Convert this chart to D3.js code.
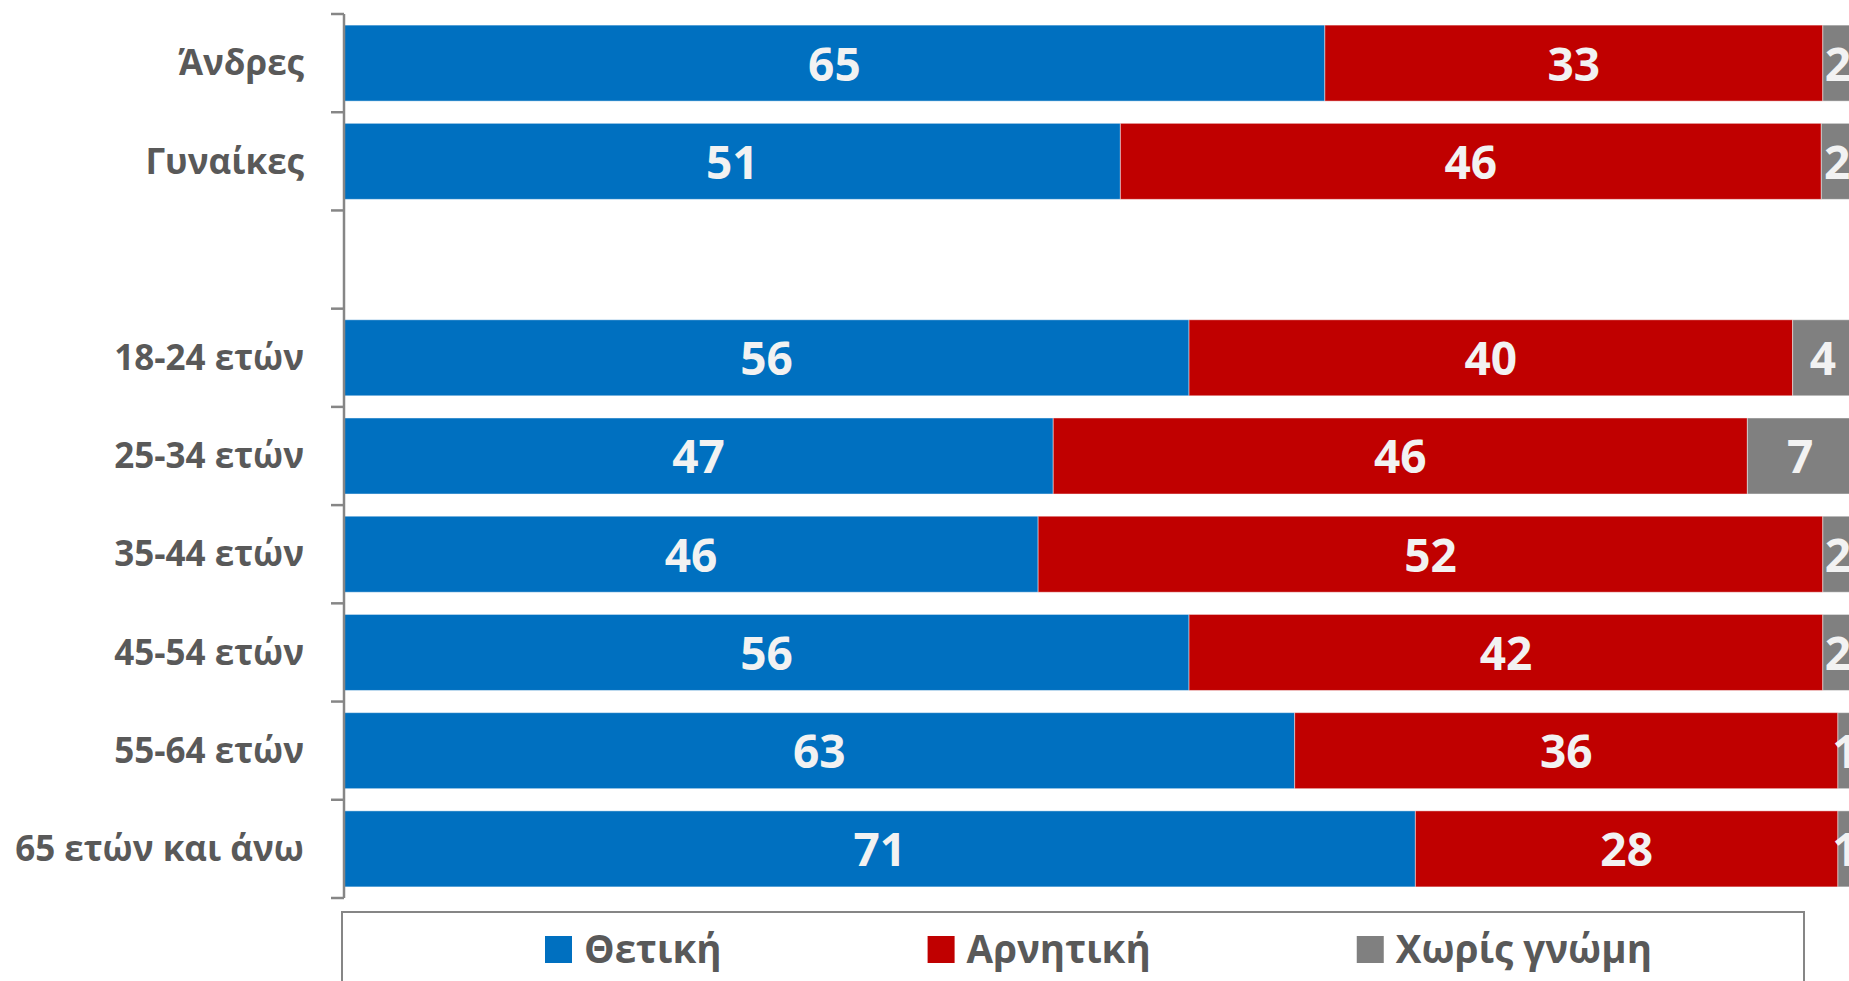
<!DOCTYPE html>
<html>
<head>
<meta charset="utf-8">
<script src="https://cdn.jsdelivr.net/npm/d3@7"></script>
<style>
  html, body { margin: 0; padding: 0; background: #fff; overflow: hidden; }
  svg { display: block; font-family: "Open Sans", sans-serif; }
</style>
</head>
<body>
<svg id="chart" width="1849" height="981"></svg>
<script>
// categories (empty one is the spacer row between gender and age groups)
const categories = ['Άνδρες', 'Γυναίκες', '', '18-24 ετών', '25-34 ετών', '35-44 ετών', '45-54 ετών', '55-64 ετών', '65 ετών και άνω'];
const seriesNames = ['Θετική', 'Αρνητική', 'Χωρίς γνώμη'];
const positive = [65, 51.45, null, 56, 47, 46, 56, 63, 71];
const negative = [33, 46.45, null, 40, 46, 52, 42, 36, 28];
const noOpinion = [2, 2.1, null, 4, 7, 2, 2, 1, 1];
const colors = ['#0070C0', '#C00000', '#808080'];

const svg = d3.select('#chart');
const margin = {top: 14, left: 344, bottom: 83};
const H = 981;
const fmt = d3.format('.0f');

const x = d3.scaleLinear().domain([0, 100]).range([344, 1853]);
const y = d3.scaleBand()
  .domain(d3.range(categories.length))
  .range([margin.top, H - margin.bottom])
  .paddingInner(0.226)
  .paddingOuter(0.113);

const rows = categories.map((c, i) => ({
  cat: c, idx: i, vals: [positive[i], negative[i], noOpinion[i]]
}));

// ---- bars
const rowG = svg.append('g').selectAll('g.row')
  .data(rows.filter(r => r.vals[0] != null))
  .join('g')
  .attr('class', 'row');

const segs = rowG.selectAll('g.seg')
  .data(r => {
    let acc = 0;
    return r.vals.map((v, k) => {
      const s = {k, v, x0: acc, x1: acc + v, idx: r.idx};
      acc += v;
      return s;
    });
  })
  .join('g')
  .attr('class', 'seg');

segs.append('rect')
  .attr('x', d => x(d.x0))
  .attr('y', d => y(d.idx))
  .attr('width', d => x(d.x1) - x(d.x0))
  .attr('height', y.bandwidth())
  .attr('fill', d => colors[d.k])
  .attr('stroke', '#ffffff')
  .attr('stroke-opacity', 0.45)
  .attr('stroke-width', 1);

segs.append('text')
  .attr('x', d => (x(d.x0) + x(d.x1)) / 2)
  .attr('y', d => y(d.idx) + y.bandwidth() / 2)
  .attr('dy', '0.38em')
  .attr('text-anchor', 'middle')
  .attr('fill', '#F2F2F2')
  .attr('font-size', 46)
  .attr('font-weight', 700)
  .text(d => fmt(d.v));

// ---- category axis
const step = y.step();
const axisG = svg.append('g');
axisG.append('line')
  .attr('x1', margin.left).attr('x2', margin.left)
  .attr('y1', margin.top).attr('y2', H - margin.bottom)
  .attr('stroke', '#868686').attr('stroke-width', 2.5);

axisG.selectAll('line.tick')
  .data(d3.range(categories.length + 1))
  .join('line')
  .attr('class', 'tick')
  .attr('x1', margin.left - 13).attr('x2', margin.left)
  .attr('y1', i => margin.top + i * step)
  .attr('y2', i => margin.top + i * step)
  .attr('stroke', '#868686').attr('stroke-width', 2.5);

axisG.selectAll('text.cat')
  .data(rows)
  .join('text')
  .attr('class', 'cat')
  .attr('x', 304)
  .attr('y', d => y(d.idx) + y.bandwidth() / 2)
  .attr('dy', '0.35em')
  .attr('text-anchor', 'end')
  .attr('fill', '#595959')
  .attr('font-size', 35)
  .attr('font-weight', 700)
  .text(d => d.cat);

// ---- legend
svg.append('rect')
  .attr('x', 342).attr('y', 912)
  .attr('width', 1804 - 342).attr('height', 120)
  .attr('fill', '#fff')
  .attr('stroke', '#868686').attr('stroke-width', 2);

let lx = 545;
seriesNames.forEach((name, k) => {
  const g = svg.append('g').attr('transform', `translate(${lx},936)`);
  g.append('rect')
    .attr('width', 27).attr('height', 27)
    .attr('fill', colors[k]);
  const t = g.append('text')
    .attr('x', 39).attr('y', 27)
    .attr('fill', '#595959')
    .attr('font-size', 38.5)
    .attr('font-weight', 700)
    .text(name);
  lx += 39 + t.node().getComputedTextLength() + 206;
});
</script>
</body>
</html>
